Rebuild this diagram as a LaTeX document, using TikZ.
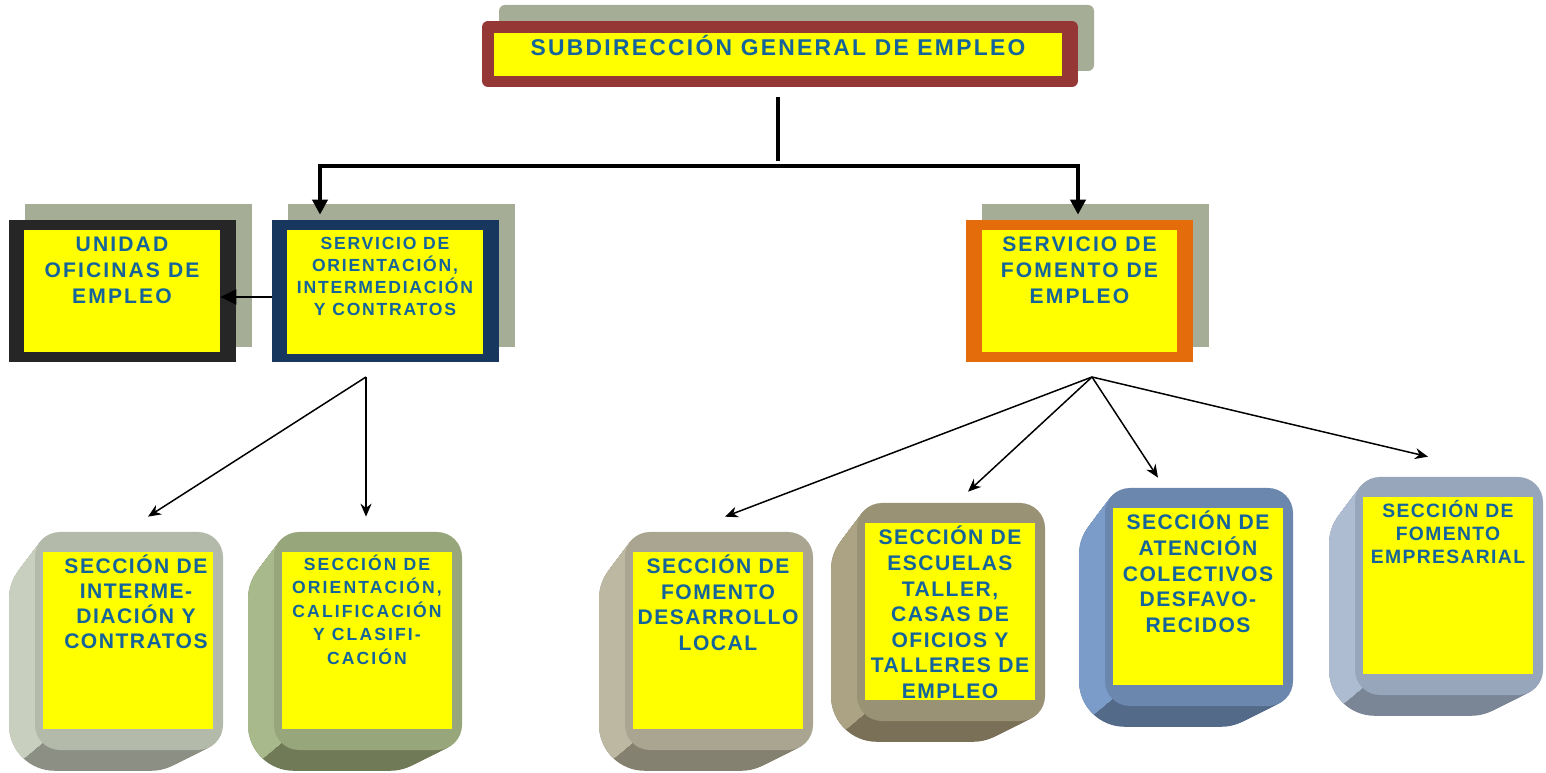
\documentclass[tikz,border=0pt]{standalone}
\usepackage{fontspec}
\setmainfont{Liberation Sans}
\usetikzlibrary{arrows.meta}

\definecolor{orgblue}{RGB}{20,100,155}
\definecolor{marco}{RGB}{149,55,53}
\definecolor{sombra}{RGB}{166,173,150}
\definecolor{negro}{RGB}{38,38,38}
\definecolor{marino}{RGB}{23,55,94}
\definecolor{naranja}{RGB}{228,108,10}
\definecolor{amar}{RGB}{255,255,0}
% bloques inferiores: cara, lado, base
\definecolor{grisA}{RGB}{180,186,169}\definecolor{grisB}{RGB}{201,207,191}\definecolor{grisC}{RGB}{140,143,132}
\definecolor{oliA}{RGB}{152,166,123}\definecolor{oliB}{RGB}{168,185,139}\definecolor{oliC}{RGB}{113,122,87}
\definecolor{tauA}{RGB}{169,165,145}\definecolor{tauB}{RGB}{189,184,162}\definecolor{tauC}{RGB}{133,129,112}
\definecolor{marA}{RGB}{154,146,116}\definecolor{marB}{RGB}{172,163,133}\definecolor{marC}{RGB}{121,112,87}
\definecolor{azuA}{RGB}{107,135,174}\definecolor{azuB}{RGB}{123,155,200}\definecolor{azuC}{RGB}{84,106,137}
\definecolor{celA}{RGB}{152,166,188}\definecolor{celB}{RGB}{174,188,210}\definecolor{celC}{RGB}{122,133,150}

\newcommand{\letra}[3]{\bfseries\fontsize{#1}{#2}\selectfont\addfontfeatures{LetterSpace=#3}}

\tikzset{
  amarillo/.style={fill=amar, inner sep=0pt},
  marcobox/.style={inner sep=0pt, minimum width=4.54cm, minimum height=2.84cm},
  rotulo/.style={text=orgblue, align=center, inner sep=0pt, anchor=north},
  tronco/.style={line width=0.08cm, -{Triangle[length=0.3cm,width=0.3cm]}},
  rama/.style={line width=0.85pt, -{Stealth[length=0.26cm,width=0.22cm]}},
}

% #1 x, #2 y (esquina de la cara), #3 cara, #4 lado, #5 base, #6 nombre
\newcommand{\bloque}[6]{%
  \foreach \k [evaluate=\k as \rr using 0.5+0.016*\k] in {1,...,26}
    \fill[#5, rounded corners=\rr cm] ({#1-\k},{#2+0.8*\k}) rectangle ++(188,218);
  \begin{scope}
    \clip ({#1-60},{#2-10}) -- ({#1+200},{#2-10}) -- ({#1+200},{#2+210.7})
      -- ({#1+7.3},{#2+210.7}) -- ({#1-52.7},{#2+261.5}) -- ({#1-60},{#2+261.5}) -- cycle;
    \foreach \k [evaluate=\k as \rr using 0.5+0.016*\k] in {1,...,26}
      \fill[#4, rounded corners=\rr cm] ({#1-\k},{#2+0.8*\k}) rectangle ++(188,218);
  \end{scope}
  \fill[#3, rounded corners=0.5cm] (#1,#2) rectangle ++(188,218);
  \node[amarillo, minimum width=3.4cm, minimum height=3.54cm] (#6) at ({#1+93},{#2+108.5}) {};
}

\begin{document}
\begin{tikzpicture}[x=0.02cm, y=-0.02cm]
  \useasboundingbox (0,0) rectangle (1546,773);

  % subdireccion
  \fill[sombra, rounded corners=0.12cm] (499,5) rectangle (1094,71);
  \node[fill=marco, rounded corners=0.12cm, inner sep=0pt, minimum width=11.92cm, minimum height=1.32cm] (sgf) at (780,54) {};
  \node[amarillo, minimum width=11.36cm, minimum height=0.86cm] (sgf-y) at (778,54.5) {};
  \node[rotulo, font=\letra{13}{15}{10}] at ([yshift=-0.04cm]sgf-y.north) {SUBDIRECCIÓN GENERAL DE EMPLEO};

  % servicios y unidad
  \fill[sombra] (25,204) rectangle (252,347);
  \node[marcobox, fill=negro] (uof) at (122.5,291) {};
  \node[amarillo, minimum width=3.92cm, minimum height=2.44cm] (uof-y) at (122,291) {};
  \node[rotulo, font=\letra{12}{14.7}{10}] at ([yshift=-0.14cm]uof-y.north) {UNIDAD\\OFICINAS DE\\EMPLEO};

  \fill[sombra] (288,204) rectangle (515,347);
  \node[marcobox, fill=marino] (soic) at (385.5,291) {};
  \node[amarillo, minimum width=3.92cm, minimum height=2.48cm] (soic-y) at (385,292) {};
  \node[rotulo, font=\letra{10}{12.5}{10}] at ([yshift=-0.14cm]soic-y.north) {SERVICIO DE\\ORIENTACIÓN,\\INTERMEDIACIÓN\\Y CONTRATOS};

  \fill[sombra] (982,204) rectangle (1209,347);
  \node[marcobox, fill=naranja] (sfe) at (1079.5,291) {};
  \node[amarillo, minimum width=3.9cm, minimum height=2.44cm] (sfe-y) at (1079.5,291) {};
  \node[rotulo, font=\letra{12}{14.7}{10}] at ([yshift=-0.14cm]sfe-y.north) {SERVICIO DE\\FOMENTO DE\\EMPLEO};

  % secciones
  \bloque{35}{532}{grisA}{grisB}{grisC}{sic}
  \node[rotulo, font=\letra{12}{14.2}{7}] at ([xshift=0.16cm, yshift=-0.06cm]sic.north) {SECCIÓN DE\\INTERME-\\DIACIÓN Y\\CONTRATOS};
  \bloque{274}{532}{oliA}{oliB}{oliC}{socc}
  \node[rotulo, font=\letra{10}{13.3}{12}] at ([yshift=-0.06cm]socc.north) {SECCIÓN DE\\ORIENTACIÓN,\\CALIFICACIÓN\\Y CLASIFI-\\CACIÓN};
  \bloque{625}{532}{tauA}{tauB}{tauC}{sfdl}
  \node[rotulo, font=\letra{12}{14.5}{7}] at ([yshift=-0.06cm]sfdl.north) {SECCIÓN DE\\FOMENTO\\DESARROLLO\\LOCAL};
  \bloque{857}{503}{marA}{marB}{marC}{set}
  \begin{scope}
    \clip (set.south west) rectangle (set.north east);
    \node[rotulo, font=\letra{12}{14.6}{7}] at ([yshift=-0.06cm]set.north) {SECCIÓN DE\\ESCUELAS\\TALLER,\\CASAS DE\\OFICIOS Y\\TALLERES DE\\EMPLEO};
  \end{scope}
  \bloque{1105}{488}{azuA}{azuB}{azuC}{sacd}
  \node[rotulo, font=\letra{12}{14.6}{7}] at ([yshift=-0.06cm]sacd.north) {SECCIÓN DE\\ATENCIÓN\\COLECTIVOS\\DESFAVO-\\RECIDOS};
  \bloque{1355}{477}{celA}{celB}{celC}{sfem}
  \node[rotulo, font=\letra{11}{13.2}{7}] at ([yshift=-0.06cm]sfem.north) {SECCIÓN DE\\FOMENTO\\EMPRESARIAL};

  % conectores
  \coordinate (bus) at (778,166);
  \coordinate (bus-l) at (320,166);
  \coordinate (bus-r) at (1078,166);
  \coordinate (fork-o) at (366,377);
  \coordinate (fork-f) at (1092,377);
  \draw[line width=0.08cm, shorten <=0.2cm, shorten >=0.1cm] (sgf.south -| bus) -- (bus);
  \draw[tronco, shorten >=0.1cm] (bus) -| (bus-l |- soic.north);
  \draw[tronco, shorten >=0.1cm] (bus) -| (bus-r |- sfe.north);
  \draw[line width=0.04cm, -{Triangle[length=0.32cm,width=0.3cm]}] ([yshift=-0.12cm]soic.west) -- ([yshift=-0.12cm]uof-y.east);

  \draw[rama] (fork-o) -- ([xshift=0.4cm, yshift=0.7cm]sic.north);
  \draw[rama] (fork-o) -- ([xshift=-0.02cm, yshift=0.7cm]socc.north);
  \draw[rama] (fork-f) -- ([xshift=0.14cm, yshift=0.7cm]sfdl.north);
  \draw[rama] (fork-f) -- ([xshift=0.36cm, yshift=0.62cm]set.north);
  \draw[rama] (fork-f) -- ([xshift=-0.8cm, yshift=0.6cm]sacd.north);
  \draw[rama] (fork-f) -- ([xshift=-0.4cm, yshift=0.8cm]sfem.north);
\end{tikzpicture}
\end{document}
